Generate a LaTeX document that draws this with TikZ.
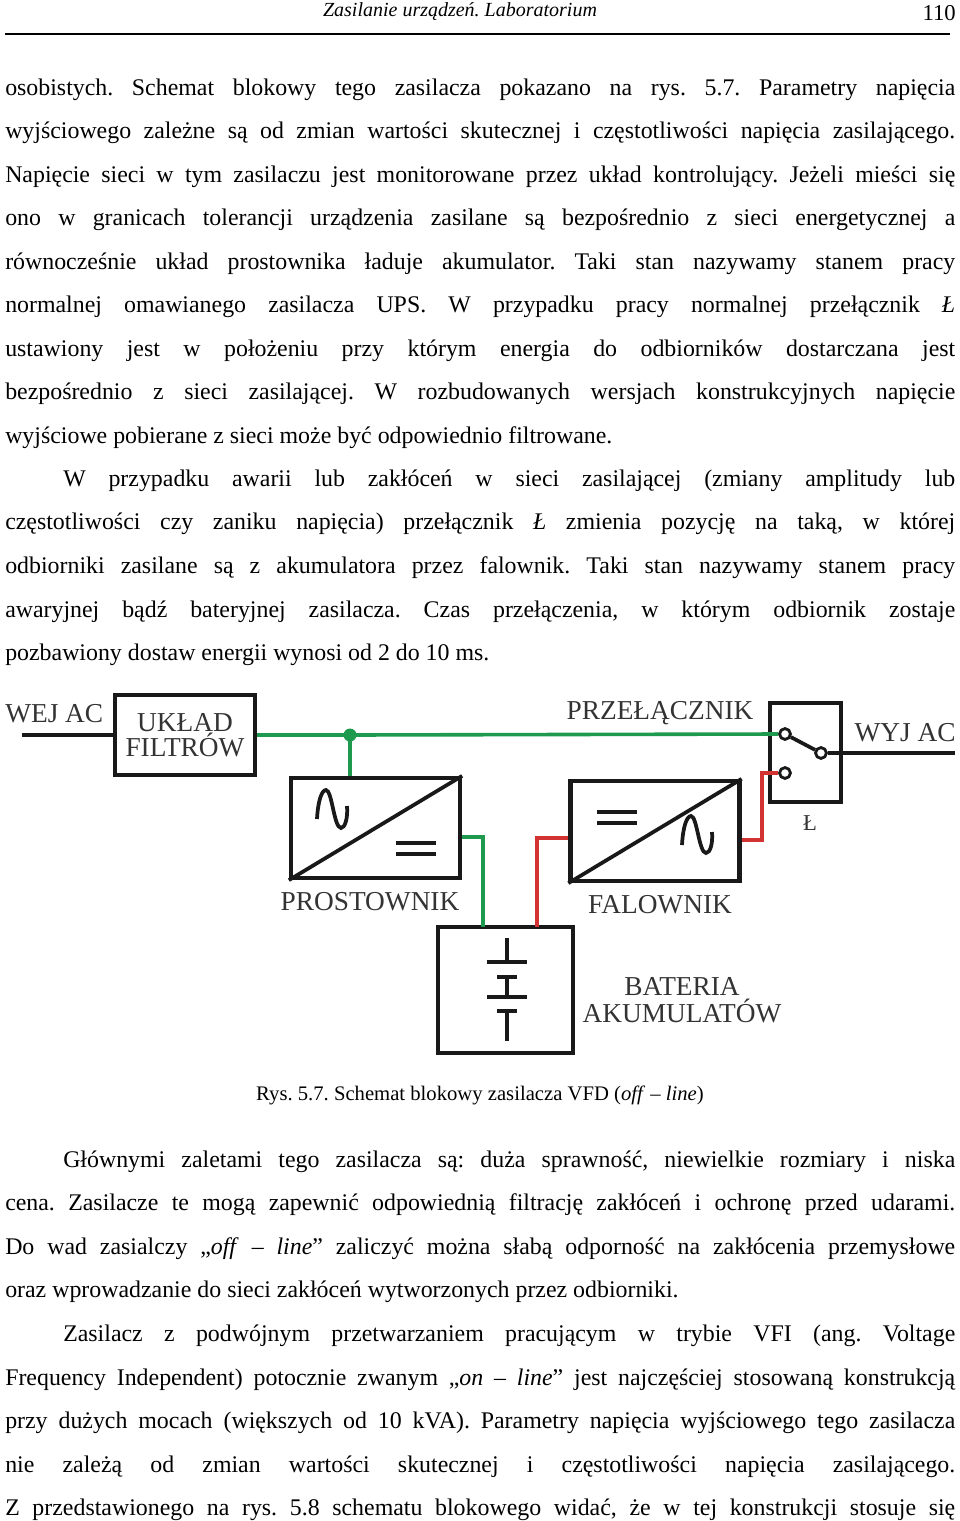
\documentclass[tikz,border=0pt]{standalone}
\usepackage{fontspec}
\setmainfont{Liberation Serif}
\frenchspacing
\newcommand{\Jline}[3]{\node[txt] at (#1,#2) {\makebox[\dimexpr(955pt-#1pt)*3/4\relax][s]{#3}};}
\newcommand{\Lline}[3]{\node[txt] at (#1,#2) {#3};}
\begin{document}
\begin{tikzpicture}[x=0.75pt,y=-0.75pt,
  txt/.style={anchor=base west,inner sep=0pt,font=\fontsize{17.9}{20}\selectfont},
  lbl/.style={inner sep=0pt,text=black!80,font=\fontsize{20.5}{23}\selectfont,align=center},
  blk/.style={draw=black!90,line width=3.2pt},
  sym/.style={draw=black!90,line width=2.8pt},
  gw/.style={draw=wireG,line width=2.7pt},
  rw/.style={draw=wireR,line width=2.7pt},
  bl/.style={draw=black!90,line width=2.7pt},
  cont/.style={circle,draw=black!90,line width=2pt,fill=white,minimum size=8pt,inner sep=0}]
\definecolor{wireG}{HTML}{1E9A4E}
\definecolor{wireR}{HTML}{D23232}
\useasboundingbox[fill=white] (0,0) rectangle (960,1521);
% header
\node[inner sep=0,font=\fontsize{15}{18}\selectfont\itshape] (hd) at (460,12) {Zasilanie urządzeń. Laboratorium};
\node[inner sep=0,anchor=east,font=\fontsize{17}{20}\selectfont] (pg) at (956,13) {110};
\draw[line width=0.8] (5,34) -- (950,34);
% text top
\Jline{5}{95}{osobistych. Schemat blokowy tego zasilacza pokazano na rys. 5.7. Parametry napięcia}
\Jline{5}{138}{wyjściowego zależne są od zmian wartości skutecznej i częstotliwości napięcia zasilającego.}
\Jline{5}{182}{Napięcie sieci w tym zasilaczu jest monitorowane przez układ kontrolujący. Jeżeli mieści się}
\Jline{5}{225}{ono w granicach tolerancji urządzenia zasilane są bezpośrednio z sieci energetycznej a}
\Jline{5}{269}{równocześnie układ prostownika ładuje akumulator. Taki stan nazywamy stanem pracy}
\Jline{5}{312}{normalnej omawianego zasilacza UPS. W przypadku pracy normalnej przełącznik \textit{Ł}}
\Jline{5}{356}{ustawiony jest w położeniu przy którym energia do odbiorników dostarczana jest}
\Jline{5}{399}{bezpośrednio z sieci zasilającej. W rozbudowanych wersjach konstrukcyjnych napięcie}
\Lline{5}{443}{wyjściowe pobierane z sieci może być odpowiednio filtrowane.}
\Jline{63}{486}{W przypadku awarii lub zakłóceń w sieci zasilającej (zmiany amplitudy lub}
\Jline{5}{529}{częstotliwości czy zaniku napięcia) przełącznik \textit{Ł} zmienia pozycję na taką, w której}
\Jline{5}{573}{odbiorniki zasilane są z akumulatora przez falownik. Taki stan nazywamy stanem pracy}
\Jline{5}{617}{awaryjnej bądź bateryjnej zasilacza. Czas przełączenia, w którym odbiornik zostaje}
\Lline{5}{660}{pozbawiony dostaw energii wynosi od 2 do 10 ms.}
% diagram
\node[lbl,anchor=west] (wej) at (5,714) {WEJ AC};
\coordinate (win) at (22,735);
\node[blk,lbl,minimum width=105pt,minimum height=60pt] (filt) at (185,735) {UKŁAD\\[-4pt]FILTRÓW};
\draw[bl] (win) -- (filt.west);
\node[blk,minimum width=126.75pt,minimum height=75pt] (rect) at (375.5,828) {};
\draw[sym] (rect.south west) -- (rect.north east);
\draw[sym] (317,819) .. controls (318,800) and (322,790) .. (326,790) .. controls (332,790) and (334,828) .. (341,828) .. controls (345,828) and (348,818) .. (347,806);
\draw[sym] (396,843) -- (436,843) (396,854) -- (436,854);
\node[lbl] (pros) at (370,902) {PROSTOWNIK};
\node[blk,minimum width=126.75pt,minimum height=75pt] (inv) at (655,831) {};
\draw[sym] (inv.south west) -- (inv.north east);
\draw[sym] (597,812) -- (637,812) (597,823) -- (637,823);
\draw[sym] (682,845) .. controls (683,826) and (687,816) .. (691,816) .. controls (697,816) and (699,853) .. (706,853) .. controls (710,853) and (713,844) .. (712,832);
\node[lbl] (fal) at (660,905) {FALOWNIK};
\node[blk,minimum width=101.25pt,minimum height=94.5pt] (bat) at (505.5,990) {};
\draw[sym] (507,938) -- (507,962) (487,962) -- (527,962)
  (497,977) -- (517,977) (507,977) -- (507,997) (487,997) -- (527,997)
  (497,1011) -- (517,1011) (507,1011) -- (507,1041);
\node[lbl] (batl) at (682,1000) {BATERIA\\[-3pt]AKUMULATÓW};
\node[blk,minimum width=53.25pt,minimum height=74.25pt] (sw) at (805.5,752.5) {};
\coordinate (jn) at (350,735);
\node[cont] (c1) at (785,734) {};
\node[cont] (c2) at (785,773) {};
\node[cont] (c3) at (821,753) {};
\draw[gw] (filt.east) -- (jn) -- (c1.west);
\draw[rw] (inv.east |- 0,840) -- (762,840) -- (762,773) -- (c2.west);
\node[cont] at (785,734) {};
\node[cont] at (785,773) {};
\draw[sym] (c1) -- (c3);
\coordinate (wout) at (955,753);
\draw[bl] (c3) -- (wout);
\node[cont] at (821,753) {};
\node[lbl] (wyj) at (905,733) {WYJ AC};
\node[lbl] (prz) at (660,713) {PRZEŁĄCZNIK};
\node[lbl,font=\fontsize{17}{20}\selectfont] (lk) at (810,823) {Ł};
\draw[gw] (jn) -- (rect.north -| jn);
\fill[wireG] (jn) circle (6.5);
\draw[gw] (rect.east |- 0,837) -- (483,837) -- (483,927);
\draw[rw] (537,927) -- (537,838) -- (inv.west |- 0,838);
% caption
\node[inner sep=0,font=\fontsize{15.5}{18}\selectfont] (cap) at (480,1095) {Rys. 5.7. Schemat blokowy zasilacza VFD (\textit{off} – \textit{line})};
% text bottom
\Jline{63}{1167}{Głównymi zaletami tego zasilacza są: duża sprawność, niewielkie rozmiary i niska}
\Jline{5}{1210}{cena. Zasilacze te mogą zapewnić odpowiednią filtrację zakłóceń i ochronę przed udarami.}
\Jline{5}{1254}{Do wad zasialczy „\textit{off} – \textit{line}” zaliczyć można słabą odporność na zakłócenia przemysłowe}
\Lline{5}{1297}{oraz wprowadzanie do sieci zakłóceń wytworzonych przez odbiorniki.}
\Jline{63}{1341}{Zasilacz z podwójnym przetwarzaniem pracującym w trybie VFI (ang. Voltage}
\Jline{5}{1385}{Frequency Independent) potocznie zwanym „\textit{on} – \textit{line}” jest najczęściej stosowaną konstrukcją}
\Jline{5}{1428}{przy dużych mocach (większych od 10 kVA). Parametry napięcia wyjściowego tego zasilacza}
\Jline{5}{1472}{nie zależą od zmian wartości skutecznej i częstotliwości napięcia zasilającego.}
\Jline{5}{1515}{Z przedstawionego na rys. 5.8 schematu blokowego widać, że w tej konstrukcji stosuje się}
\end{tikzpicture}
\end{document}
